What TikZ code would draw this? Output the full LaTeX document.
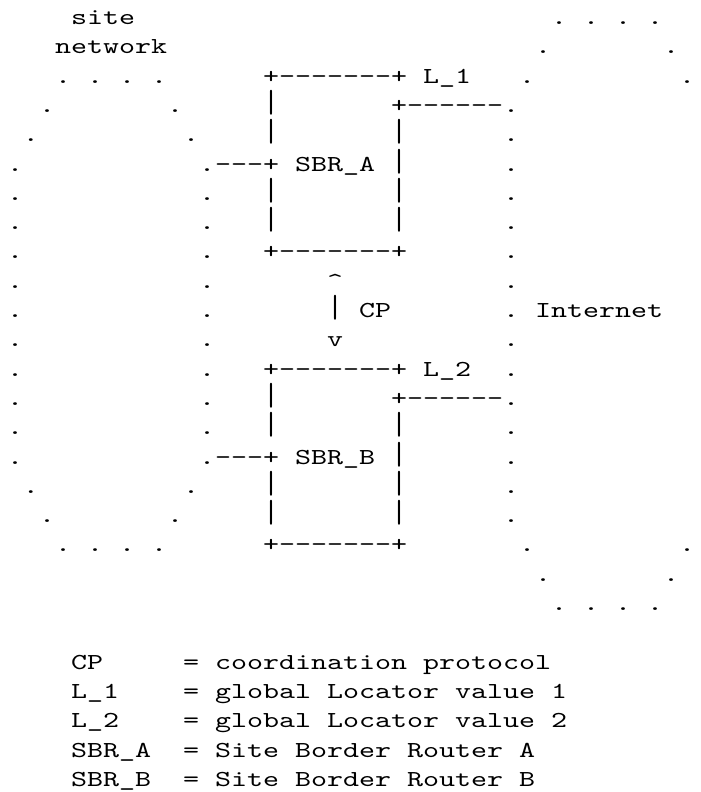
\documentclass[tikz,border=0pt]{standalone}
\usepackage{graphicx}
\usepackage{fontspec}
\newfontfamily\asciifont{lmmono10-regular.otf}[FakeStretch=1.3333,Ligatures=TeXOff]
\newcommand\vbar{\scalebox{1}[1.4]{|}}
\tikzset{asc/.style={anchor=base west, inner sep=0pt, outer sep=0pt, font={\fontsize{22.86pt}{29.3pt}\asciifont}}}

\begin{document}
\begin{tikzpicture}
    \useasboundingbox (0pt,0pt) rectangle (701pt,-792pt);
    \begin{scope}[shift={(7pt,-24.5pt)}, x=16pt, y=-29.3pt]
        % Site network
        \node[asc] (site) at (4,0) {site};
        \node[asc] (net) at (3,1) {network};
        \foreach \c in {3,5,7,9} {
            \node[asc] (stop\c) at (\c,2) {.};
            \node[asc] (sbot\c) at (\c,18) {.};
        }
        \foreach \r/\a/\b in {3/2/10, 4/1/11, 16/1/11, 17/2/10} {
            \node[asc] (sw\r) at (\a,\r) {.};
            \node[asc] (se\r) at (\b,\r) {.};
        }
        \foreach \r in {5,...,15} {
            \node[asc] (sl\r) at (0,\r) {.};
            \node[asc] (sr\r) at (12,\r) {.};
        }

        % Internet
        \foreach \c in {34,36,38,40} {
            \node[asc] (itop\c) at (\c,0) {.};
            \node[asc] (ibot\c) at (\c,20) {.};
        }
        \foreach \r/\a/\b in {1/33/41, 2/32/42, 18/32/42, 19/33/41} {
            \node[asc] (iw\r) at (\a,\r) {.};
            \node[asc] (ie\r) at (\b,\r) {.};
        }
        \foreach \r in {3,...,17}
            \node[asc] (il\r) at (31,\r) {.};
        \node[asc] (inet) at (33,10) {Internet};

        % SBR_A
        \node[asc] (atop) at (16,2) {+-------+};
        \node[asc] (lone) at (26,2) {L\_1};
        \node[asc] (a3) at (16,3) {\vbar~~~~~~~+------};
        \node[asc] (a4) at (16,4) {\vbar~~~~~~~\vbar};
        \node[asc] (sbrA) at (13,5) {---+~SBR\_A~\vbar};
        \node[asc] (a6) at (16,6) {\vbar~~~~~~~\vbar};
        \node[asc] (a7) at (16,7) {\vbar~~~~~~~\vbar};
        \node[asc] (abot) at (16,8) {+-------+};

        % CP
        \node[asc] (up) at (20,9) {\textasciicircum};
        \node[asc] (cp) at (20,10) {\vbar~CP};
        \node[asc] (down) at (20,11) {v};

        % SBR_B
        \node[asc] (btop) at (16,12) {+-------+};
        \node[asc] (ltwo) at (26,12) {L\_2};
        \node[asc] (b13) at (16,13) {\vbar~~~~~~~+------};
        \node[asc] (b14) at (16,14) {\vbar~~~~~~~\vbar};
        \node[asc] (sbrB) at (13,15) {---+~SBR\_B~\vbar};
        \node[asc] (b16) at (16,16) {\vbar~~~~~~~\vbar};
        \node[asc] (b17) at (16,17) {\vbar~~~~~~~\vbar};
        \node[asc] (bbot) at (16,18) {+-------+};

        % Legend
        \node[asc] (keycp) at (4,22) {CP~~~~~=~coordination~protocol};
        \node[asc] (keylone) at (4,23) {L\_1~~~~=~global~Locator~value~1};
        \node[asc] (keyltwo) at (4,24) {L\_2~~~~=~global~Locator~value~2};
        \node[asc] (keya) at (4,25) {SBR\_A~~=~Site~Border~Router~A};
        \node[asc] (keyb) at (4,26) {SBR\_B~~=~Site~Border~Router~B};
    \end{scope}
\end{tikzpicture}
\end{document}
